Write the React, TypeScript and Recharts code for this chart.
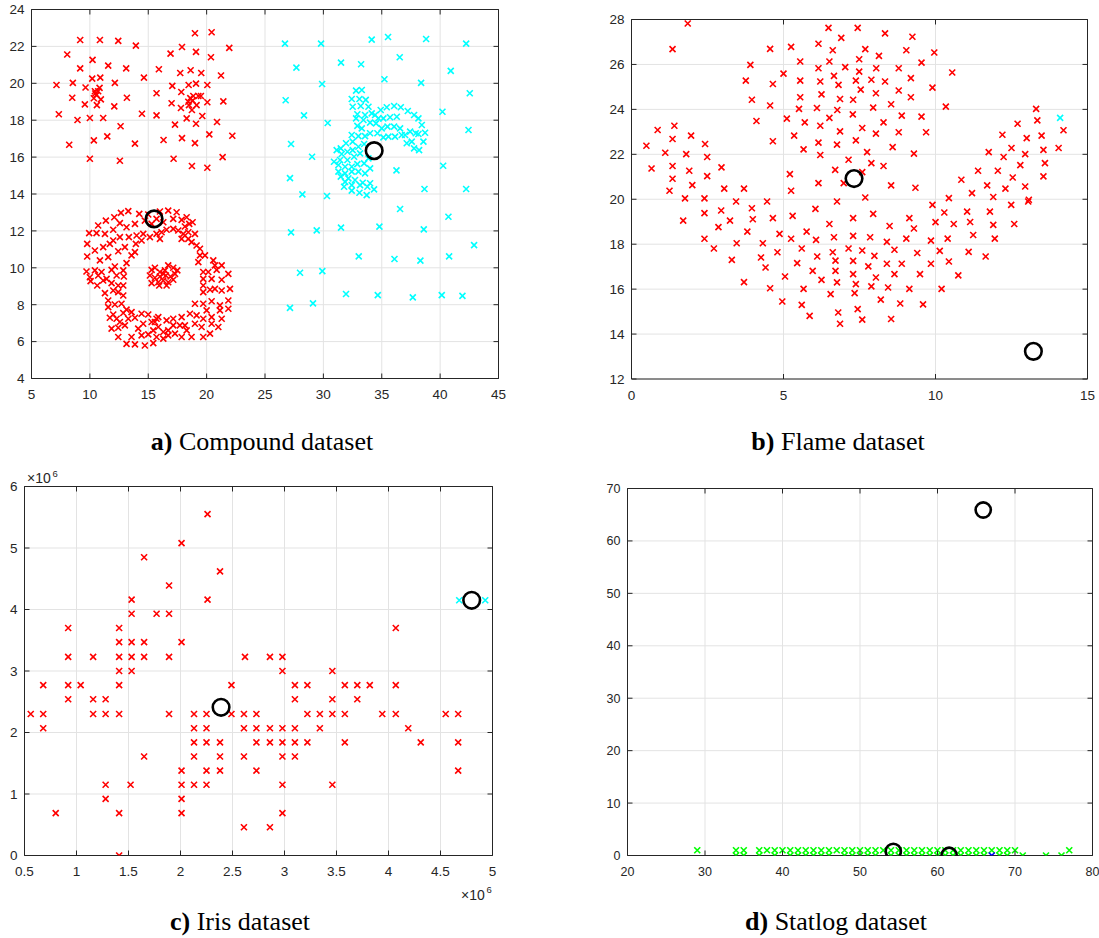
import React from "react";
import { ScatterChart, Scatter, XAxis, YAxis, CartesianGrid, ReferenceArea } from "recharts";

type Pt = { x: number; y: number };
const toPts = (arr: number[][]): Pt[] => arr.map(([x, y]) => ({ x, y }));

// ---- a) Compound dataset ----
const compoundRed = toPts([
  // upper-left blob
  [9.17, 22.35], [10.86, 22.35], [12.43, 22.3], [13.94, 22.04], [8.06, 21.56], [10.23, 21.27], [11.57, 20.96],
  [9.17, 20.81], [13.11, 20.81], [14.63, 20.31], [7.14, 19.91], [8.54, 20.02], [10.2, 20.25], [10.89, 20.31],
  [12.14, 20.02], [9.63, 19.77], [10.83, 19.75], [10.43, 19.57], [10.71, 19.57], [10.57, 19.37], [10.34, 19.19],
  [10.94, 19.13], [8.49, 19.22], [13.17, 19.22], [9.57, 18.86], [10.6, 18.82], [12.09, 18.75], [14.46, 18.35],
  [7.34, 18.32], [8.94, 18.01], [10, 18.12], [11.14, 18.12], [12.63, 17.67], [10.34, 16.91], [11.49, 17.12],
  [8.23, 16.67], [13.86, 16.73], [10, 15.91], [12.57, 15.8], [10.46, 19.45],
  // upper-right blob
  [19, 22.71], [20.43, 22.77], [17.89, 21.97], [16.91, 21.61], [19.09, 21.7], [21.94, 21.92], [20.37, 21.41],
  [15.91, 20.76], [17.74, 20.56], [18.63, 20.71], [19.54, 20.56], [21.23, 20.42], [17.06, 19.86], [18.46, 19.91],
  [19.09, 19.98], [20.06, 19.91], [15.71, 19.46], [17.83, 19.53], [18.6, 19.2], [18.86, 19.31], [19.29, 19.31],
  [19.51, 19.31], [18.43, 19.0], [18.8, 19.06], [17.0, 18.92], [18.49, 18.82], [19.14, 18.82], [17.8, 18.66],
  [18.74, 18.55], [20.06, 18.97], [21.43, 19.02], [15.71, 18.26], [18.29, 18.1], [19.63, 18.23], [20.89, 17.9],
  [17.29, 17.76], [19.09, 17.81], [20.23, 17.23], [22.2, 17.16], [16.31, 16.93], [17.89, 17.03], [19, 16.76],
  [21.37, 16.0], [17.17, 15.91], [18.74, 15.52], [20.06, 15.42],
  // ring, top part
  [13.29, 13.07], [12.66, 12.98], [14.23, 12.92], [15, 12.89], [16, 13.05], [16.71, 13.1], [17.43, 13.01],
  [18.29, 12.74], [12.09, 12.74], [11.37, 12.56], [10.71, 12.29], [9.94, 11.88], [9.77, 11.3], [9.77, 10.61],
  [9.71, 9.8], [10.06, 9.28], [12.57, 12.42], [13.86, 12.38], [14.71, 12.56], [15.29, 12.38], [15.71, 12.65],
  [16.29, 12.47], [17.14, 12.65], [17.86, 12.6], [18.51, 12.38], [18.8, 12.47], [18.14, 12.24], [10.57, 11.88],
  [11.29, 11.84], [12, 12.06], [13.14, 12.2], [12, 11.48], [12.57, 11.66], [13.34, 11.66], [14, 11.75],
  [14.57, 11.84], [15.14, 11.66], [15.71, 11.84], [16.14, 11.93], [16.57, 12.06], [17.14, 12.11], [17.57, 12.02],
  [18, 11.84], [18.43, 11.93], [19, 11.84], [17.86, 11.57], [18.43, 11.57], [16, 11.57], [14.43, 11.48], [13.94, 11.3],
  // ring, left side
  [10.43, 10.94], [11.14, 11.12], [11.71, 11.3], [12.43, 10.9], [13, 11.12], [13.86, 10.85], [13.57, 10.67],
  [10.86, 10.4], [11.57, 10.58], [12.14, 10.07], [12.86, 9.86], [13.14, 10.25], [10.43, 9.86], [11, 9.77],
  [11.86, 9.89], [10, 9.49], [10.71, 9.58], [11.43, 9.4], [12.29, 9.58], [12.91, 9.53], [10.63, 9.04],
  [11.14, 9.31], [11.86, 9.17], [12.43, 9.04], [12.86, 9.04], [11.29, 8.63], [12, 8.77], [12.43, 8.68],
  [12.86, 8.5], [11.57, 8.23], [12.14, 8.01], [12.71, 8.05], [13.14, 7.73], [11.57, 7.87], [12, 7.47],
  [11.71, 7.29], [12.29, 7.24], [12.86, 7.55], [13.57, 7.6], [12.57, 7.06], [13, 6.88], [11.86, 6.7],
  [12.43, 6.75], [13.29, 7.24], [13.86, 7.29], [14.43, 7.51], [15, 7.47],
  // ring, bottom
  [12.43, 6.25], [13.57, 6.25], [13.14, 5.88], [13.86, 5.85], [14.71, 5.79], [15.43, 5.92], [14.14, 6.7],
  [14.43, 6.34], [15, 6.39], [14.57, 6.97], [15.29, 7.06], [15.71, 7.24], [15.86, 6.79], [15.43, 6.61],
  [15.71, 6.25], [16.29, 6.52], [16.29, 6.16], [16.71, 6.61], [16.71, 6.34], [17.14, 6.88], [17.29, 6.43],
  [17.86, 6.25], [17.86, 7.33], [18.14, 6.88], [18.29, 6.61], [18.71, 6.25], [18.57, 7.51], [19, 6.97],
  [15.57, 7.06], [16.57, 7.15], [15.86, 7.33], [17.14, 7.24], [17.71, 6.88],
  // ring, right side
  [19.57, 6.79], [19.71, 6.25], [20.29, 6.43], [20.43, 6.97], [21, 6.79], [21.29, 7.24], [20.43, 7.33],
  [19.71, 7.24], [20, 7.69], [21.14, 7.69], [21.86, 7.78], [19.14, 7.42], [19, 8.05], [19.71, 8.05],
  [20.43, 8.19], [21.14, 7.96], [21.86, 8.23], [22, 8.86], [21.29, 8.77], [20.71, 8.86], [20.29, 8.81],
  [19.71, 8.68], [19.71, 9.04], [20.43, 9.4], [21.29, 9.35], [21.86, 9.67], [19.71, 9.4], [19.71, 9.77],
  [20.14, 9.77], [20.86, 9.89], [20.71, 10.13], [21.29, 10.13], [20.57, 10.4], [19.86, 10.67], [19.43, 10.67],
  [19.29, 10.31], [19.43, 11.03], [19.14, 11.21], [18.71, 11.39],
  // inner cluster
  [15.29, 9.89], [15.57, 10], [16, 9.77], [16.43, 9.86], [16.71, 10.13], [17.14, 10], [17.49, 9.86],
  [15.14, 9.58], [15.57, 9.46], [16, 9.53], [16.51, 9.58], [16.91, 9.53], [17.29, 9.67], [15.29, 9.17],
  [15.86, 9.22], [16.29, 9.31], [16.71, 9.22], [17.14, 9.35], [15.94, 9.04], [16.57, 9.04], [16.29, 9.67],
]);

const compoundCyan = toPts([
  // sparse background
  [26.71, 22.15], [29.8, 22.15], [34.14, 22.37], [35.54, 22.51], [38.8, 22.4], [42.23, 22.15], [27.69, 20.85],
  [31.51, 21.12], [33.23, 21.03], [36.54, 21.41], [40.91, 20.67], [29.89, 19.96], [35.23, 20.22], [38.37, 20.02],
  [42.54, 19.46], [26.77, 19.08], [28.34, 18.26], [30.37, 17.85], [40.2, 18.46], [42.43, 17.47], [27.23, 16.71],
  [29.03, 16.02], [40.26, 15.53], [36.26, 15.28], [27.14, 14.86], [28.2, 13.98], [30.31, 13.89], [38.66, 14.27],
  [42.23, 14.27], [36.57, 13.19], [40.71, 12.77], [27.23, 11.92], [29.43, 12.03], [31.51, 12.18], [34.8, 12.23],
  [38.6, 12.08], [42.91, 11.23], [33.03, 10.62], [36.09, 10.48], [38.31, 10.39], [40.77, 10.62], [28.0, 9.73],
  [29.91, 9.82], [31.94, 8.58], [34.66, 8.52], [37.66, 8.4], [40.14, 8.52], [41.91, 8.48], [27.14, 7.83], [29.11, 8.07],
  // dense hook
  [32.8, 19.6], [33.29, 19.64], [32.43, 19.15], [33.09, 19.15], [33.63, 19.1], [32.51, 18.73], [33.2, 18.77],
  [33.86, 18.73], [32.91, 18.32], [33.57, 18.28], [34.14, 18.37], [32.8, 18.1], [34, 17.87], [32.91, 17.69],
  [33.29, 17.56], [34.91, 18.55], [35.43, 18.7], [36.06, 18.77], [36.63, 18.7], [37.23, 18.5], [37.77, 18.28],
  [38.14, 18.1], [38.43, 17.74], [38.71, 17.32], [38.57, 16.84], [38.2, 16.38], [37.77, 16.47], [37.57, 16.84],
  [37.14, 16.75], [37.0, 17.2], [37.43, 17.38], [37.91, 17.29], [38.14, 17.25], [36.29, 18.19], [35.71, 18.16],
  [35.14, 18.1], [34.71, 18.1], [34.51, 17.83], [35, 17.56], [35.49, 17.65], [36.06, 17.65], [36.57, 17.56],
  [36.71, 17.2], [36.14, 17.11], [35.57, 17.11], [35.14, 17.07], [34.63, 17.29], [34, 17.29], [33.57, 17.14],
  [33.0, 17.14], [32.43, 17.2], [32.51, 16.84], [31.94, 16.75], [31.49, 16.47], [31.14, 16.38], [31.57, 16.17],
  [32.06, 16.29], [32.51, 16.38], [33, 16.56], [33.49, 16.71], [33.14, 16.2], [32.63, 16.02], [32.06, 15.84],
  [31.43, 15.84], [30.91, 15.75], [31.29, 15.57], [31.86, 15.48], [32.43, 15.48], [32.91, 15.62], [33.49, 15.66],
  [33.86, 15.93], [34, 15.39], [33.57, 15.12], [33, 15.21], [32.43, 15.21], [31.86, 15.12], [31.29, 15.21],
  [31.49, 14.94], [32.14, 14.85], [32.71, 14.76], [33.37, 14.61], [34, 14.58], [34.34, 14.25], [33.77, 14.39],
  [33.14, 14.48], [32.43, 14.48], [31.86, 14.66], [32.43, 14.18], [33.09, 14.07], [33.71, 13.94], [31.77, 14.39],
  [34.43, 18.28], [33.43, 18.01],
]);
const compoundCenters = toPts([[15.5, 12.65], [34.35, 16.35]]);

// ---- b) Flame dataset ----
const flameRed = toPts([
  [1.85, 27.82], [1.35, 26.68], [0.49, 22.38], [0.86, 23.08], [1.41, 23.27], [1.35, 22.68], [1.96, 22.83],
  [1.11, 22.07], [1.8, 22.01], [2.42, 22.46], [0.66, 21.37], [1.35, 21.48], [1.9, 21.27], [2.49, 21.88],
  [1.35, 20.91], [2.0, 20.63], [2.49, 21.03], [2.96, 21.42], [1.25, 20.38], [3.05, 20.47], [3.7, 20.47],
  [3.91, 25.98], [3.76, 25.28], [3.96, 24.43], [4.11, 23.48], [4.56, 26.69], [4.65, 25.13], [4.56, 24.17],
  [4.65, 22.58], [5, 25.59], [5.25, 26.78], [5.55, 26.13], [5.55, 25.28], [5.55, 24.54], [5.51, 24.02],
  [5.11, 23.59], [5.7, 23.42], [5.35, 22.83], [5.66, 22.22], [5.21, 21.12], [5.25, 20.38], [6.15, 26.92],
  [6.48, 27.63], [6.9, 27.18], [6.62, 26.63], [6.51, 26.13], [6.15, 25.83], [6.21, 25.24], [6.66, 25.49],
  [6.81, 25.09], [6.25, 24.67], [6.86, 24.46], [6.1, 24.06], [6.77, 23.97], [6.51, 23.62], [6.21, 23.27],
  [6.86, 23.02], [6.15, 22.52], [6.76, 22.43], [6.21, 21.97], [6.7, 21.31], [6.15, 20.72], [6.98, 20.72],
  [7.14, 21.76],
  [7.44, 27.63], [8.34, 27.38], [9.24, 27.23], [7.69, 26.68], [8.14, 26.38], [9.04, 26.63], [9.96, 26.53],
  [7.49, 26.23], [7.03, 25.88], [7.49, 25.68], [8.05, 25.83], [8.79, 25.83], [9.54, 26.08], [10.55, 25.64],
  [7.38, 25.28], [7.89, 25.32], [8.34, 25.24], [9.19, 25.39], [7.54, 24.88], [8.04, 24.72], [8.79, 24.84],
  [9.9, 24.97], [7.29, 24.43], [9.19, 24.54], [7.95, 24.08], [8.54, 24.23], [10.34, 24.12], [7.28, 23.78],
  [8.89, 23.72], [9.54, 23.68], [8.29, 23.42], [7.59, 23.17], [8.04, 22.92], [8.79, 22.98], [9.69, 22.98],
  [7.38, 22.62], [8.59, 22.32], [7.75, 22.1], [9.29, 22.03], [7.89, 21.61], [8.29, 21.48], [7.59, 21.21],
  [8.54, 20.62], [9.34, 20.51], [7.69, 20.08],
  [13.31, 24.02], [12.7, 23.36], [13.35, 23.51], [14.21, 23.07], [12.2, 22.87], [13.0, 22.72], [13.49, 22.83],
  [12.5, 22.28], [13.55, 22.2], [14.05, 22.28], [11.75, 22.1], [12.24, 21.88], [12.95, 22.01], [12.79, 21.52],
  [13.6, 21.61], [11.4, 21.27], [12.05, 21.27], [12.54, 20.97], [13.55, 21.02], [10.85, 20.87], [11.7, 20.62],
  [12.3, 20.47], [12.95, 20.57], [11.2, 20.27], [11.9, 20.1], [10.44, 20.05], [13.07, 19.98],
  [1.76, 20.04], [2.4, 20.04], [3.44, 19.9], [3.96, 19.6], [4.46, 19.9], [1.7, 19.05], [2.4, 19.38],
  [2.95, 19.5], [3.24, 19.05], [3.99, 19.11], [4.65, 19.16], [5.3, 19.26], [6.05, 19.57], [6.76, 19.9],
  [2.86, 18.76], [2.4, 18.24], [3.81, 18.56], [3.46, 18.04], [4.32, 18.04], [4.87, 18.46], [5.25, 18.24],
  [5.76, 18.56], [6.07, 18.19], [6.51, 18.9], [6.66, 18.31], [2.71, 17.81], [3.3, 17.3], [4.8, 17.64],
  [5.6, 17.81], [6.62, 17.64], [4.26, 17.41], [5.45, 17.16], [6.11, 17.45], [6.71, 17.27], [4.41, 16.96],
  [5.96, 16.81], [6.71, 16.81], [5.05, 16.56], [6.25, 16.41], [6.76, 16.3], [3.7, 16.31], [4.56, 16.04],
  [5.66, 16.01], [6.55, 15.78], [4.96, 15.45], [5.6, 15.3], [5.86, 14.81], [6.8, 14.96], [6.86, 14.46],
  [7.14, 17.81],
  [9.9, 19.75], [12.49, 19.75], [13.05, 19.9], [7.29, 19.16], [7.95, 19.35], [9.14, 19.16], [10.29, 19.41],
  [11.04, 19.45], [11.79, 19.45], [8.49, 18.81], [9.29, 18.7], [10, 18.98], [10.6, 18.9], [11.14, 18.99],
  [11.9, 18.86], [12.59, 18.9], [7.29, 18.37], [7.85, 18.31], [8.4, 18.1], [9.04, 18.25], [9.85, 18.16],
  [10.4, 18.25], [11.24, 18.41], [11.95, 18.25], [7.59, 17.72], [7.99, 17.48], [8.65, 17.75], [9.4, 17.61],
  [10.14, 17.7], [11.09, 17.66], [11.65, 17.45], [7.29, 17.26], [7.79, 17.01], [8.4, 17.13], [8.89, 17.13],
  [9.85, 17.13], [10.44, 17.23], [7.29, 16.67], [8.04, 16.52], [8.65, 16.67], [9.49, 16.67], [10.75, 16.61],
  [7.38, 16.22], [7.89, 16.12], [8.44, 16.07], [9.14, 16.01], [10.2, 16.01], [7.34, 15.82], [8.2, 15.53],
  [8.84, 15.36], [9.59, 15.32], [7.44, 15.11], [7.59, 14.64], [8.54, 14.67],
]);
const flameCyan = toPts([[14.1, 23.62]]);
const flameCenters = toPts([[7.32, 20.92], [13.22, 13.23]]);

// ---- c) Iris dataset (x and y in units of 10^6) ----
const irisRed = toPts([
  [2.26, 5.55], [2.01, 5.08], [1.65, 4.85], [2.38, 4.62], [1.89, 4.39], [1.53, 4.16], [2.26, 4.16],
  [1.53, 3.93], [1.77, 3.93], [1.89, 3.93], [0.92, 3.7], [1.41, 3.7], [4.07, 3.7], [1.41, 3.47], [1.53, 3.47],
  [1.65, 3.47], [2.01, 3.47], [0.92, 3.23], [1.16, 3.23], [1.41, 3.23], [1.53, 3.23], [1.65, 3.23], [1.89, 3.23],
  [2.62, 3.23], [2.86, 3.23], [2.98, 3.23], [1.41, 3.0], [1.53, 3.0], [2.98, 3.0], [3.46, 3.0],
  [0.68, 2.77], [0.92, 2.77], [1.04, 2.77], [1.41, 2.77], [2.49, 2.77], [3.1, 2.77], [3.22, 2.77], [3.58, 2.77],
  [3.7, 2.77], [3.82, 2.77], [4.07, 2.77],
  [0.92, 2.54], [1.16, 2.54], [1.28, 2.54], [3.1, 2.54], [3.46, 2.54], [3.7, 2.54],
  [0.56, 2.3], [0.68, 2.3], [1.16, 2.3], [1.28, 2.3], [1.41, 2.3], [1.89, 2.3], [2.13, 2.3], [2.25, 2.3],
  [2.49, 2.3], [2.61, 2.3], [2.73, 2.3], [3.22, 2.3], [3.34, 2.3], [3.46, 2.3], [3.58, 2.3], [3.94, 2.3],
  [4.07, 2.3], [4.55, 2.3], [4.67, 2.3],
  [0.68, 2.07], [2.13, 2.07], [2.25, 2.07], [2.61, 2.07], [2.73, 2.07], [2.86, 2.07], [2.98, 2.07], [3.1, 2.07],
  [3.34, 2.07], [4.19, 2.07],
  [2.13, 1.84], [2.25, 1.84], [2.38, 1.84], [2.73, 1.84], [2.86, 1.84], [2.98, 1.84], [3.1, 1.84], [3.22, 1.84],
  [3.58, 1.84], [4.31, 1.84], [4.67, 1.84],
  [1.65, 1.61], [2.13, 1.61], [2.38, 1.61], [2.61, 1.61], [2.98, 1.61], [3.1, 1.61],
  [2.01, 1.38], [2.25, 1.38], [2.38, 1.38], [2.73, 1.38], [4.67, 1.38],
  [1.28, 1.15], [1.52, 1.15], [2.01, 1.15], [2.13, 1.15], [2.25, 1.15], [2.98, 1.15], [3.46, 1.15],
  [1.28, 0.92], [2.01, 0.92], [0.8, 0.69], [1.41, 0.69], [2.01, 0.69], [2.98, 0.69],
  [2.61, 0.46], [2.86, 0.46], [1.41, 0.0],
]);
const irisCyan = toPts([[4.68, 4.15], [4.93, 4.15]]);
const irisCenters = toPts([[2.39, 2.41], [4.8, 4.15]]);

// ---- d) Statlog dataset ----
const statlogGreen = toPts([
  [29, 1], [34, 1], [35, 1], [37, 1], [38, 1], [39, 1], [40, 1], [41, 1], [42, 1], [43, 1], [44, 1], [45, 1],
  [46, 1], [47, 1], [48, 1], [49, 1], [50, 1], [51, 1], [52, 1], [53, 1], [54, 1], [55, 1], [56, 1], [57, 1],
  [58, 1], [59, 1], [60, 1], [61, 1], [62, 1], [63, 1], [64, 1], [65, 1], [66, 1], [67, 1], [68, 1], [69, 1],
  [70, 1], [77, 1],
  [34, 0], [35, 0], [37, 0], [39, 0], [41, 0], [42, 0], [43, 0], [44, 0], [45, 0], [46, 0], [48, 0], [49, 0],
  [50, 0], [51, 0], [52, 0], [54, 0], [55, 0], [56, 0], [57, 0], [58, 0], [59, 0], [60, 0], [61, 0], [62, 0],
  [63, 0], [64, 0], [65, 0], [66, 0], [68, 0], [69, 0], [71, 0], [74, 0], [76, 0],
]);
const statlogBlue = toPts([[67, 0]]);
const statlogCenters = toPts([[54.3, 0.8], [61.5, 0.05], [65.9, 65.9]]);

// ---- ticks ----
const compoundXTicks = [5, 10, 15, 20, 25, 30, 35, 40, 45];
const compoundYTicks = [4, 6, 8, 10, 12, 14, 16, 18, 20, 22, 24];
const flameXTicks = [0, 5, 10, 15];
const flameYTicks = [12, 14, 16, 18, 20, 22, 24, 26, 28];
const irisXTicks = [0.5, 1, 1.5, 2, 2.5, 3, 3.5, 4, 4.5, 5];
const irisYTicks = [0, 1, 2, 3, 4, 5, 6];
const statlogXTicks = [20, 30, 40, 50, 60, 70, 80];
const statlogYTicks = [0, 10, 20, 30, 40, 50, 60, 70];

const AXIS = "#262626";
const GRID = "#e3e3e3";
const SANS = "'Liberation Sans', Arial, Helvetica, sans-serif";
const SERIF = "'Liberation Serif', 'Times New Roman', serif";
const TICK_LEN = 5;

type Series = { data: Pt[]; kind: "x" | "o"; color: string };

function XMark({ cx, cy, color }: { cx: number; cy: number; color: string }) {
  const s = 3;
  return (
    <path
      d={`M${cx - s},${cy - s}L${cx + s},${cy + s}M${cx - s},${cy + s}L${cx + s},${cy - s}`}
      stroke={color}
      strokeWidth={1.6}
      fill="none"
    />
  );
}

function Ring({ cx, cy, r }: { cx: number; cy: number; r: number }) {
  return <circle cx={cx} cy={cy} r={r} fill="none" stroke="#000" strokeWidth={2.6} />;
}

type PanelProps = {
  box: [number, number, number, number]; // svg left, top, width, height
  plot: [number, number, number, number]; // plot left, top, right, bottom
  xDomain: [number, number];
  yDomain: [number, number];
  xTicks: number[];
  yTicks: number[];
  fontSize: number;
  ringR: number;
  series: Series[];
};

function Panel({ box, plot, xDomain, yDomain, xTicks, yTicks, fontSize, ringR, series }: PanelProps) {
  const [sl, st, sw, sh] = box;
  const [pl, pt, pr, pb] = plot;
  const plotW = pr - pl;
  const plotH = pb - pt;
  // axes get 1px of room each (a zero-size axis is not drawn)
  const margin = { left: pl - sl - 1, top: pt - st, right: sl + sw - pr, bottom: st + sh - pb - 1 };

  const bottomTick = (p: any) => (
    <g key={`bx-${p.payload.value}`}>
      <line x1={p.x} y1={p.y} x2={p.x} y2={p.y - TICK_LEN} stroke={AXIS} />
      <line x1={p.x} y1={p.y - plotH} x2={p.x} y2={p.y - plotH + TICK_LEN} stroke={AXIS} />
      <text x={p.x} y={p.y + 20.5} textAnchor="middle" fontSize={fontSize} fontFamily={SANS} fill={AXIS} stroke="none">
        {p.payload.value}
      </text>
    </g>
  );
  const leftTick = (p: any) => (
    <g key={`ly-${p.payload.value}`}>
      <line x1={p.x} y1={p.y} x2={p.x + TICK_LEN} y2={p.y} stroke={AXIS} />
      <line x1={p.x + plotW - TICK_LEN} y1={p.y} x2={p.x + plotW} y2={p.y} stroke={AXIS} />
      <text x={p.x - 7} y={p.y} dy="0.36em" textAnchor="end" fontSize={fontSize} fontFamily={SANS} fill={AXIS} stroke="none">
        {p.payload.value}
      </text>
    </g>
  );

  return (
    <div style={{ position: "absolute", left: sl, top: st, width: sw, height: sh }}>
      <ScatterChart width={sw} height={sh} margin={margin}>
        <CartesianGrid stroke={GRID} strokeWidth={1} />
        <XAxis
          type="number"
          dataKey="x"
          domain={xDomain}
          ticks={xTicks}
          allowDataOverflow
          interval={0}
          height={1}
          axisLine={false}
          tickLine={false}
          tickSize={0}
          tickMargin={0}
          tick={bottomTick}
        />
        <YAxis
          type="number"
          dataKey="y"
          domain={yDomain}
          ticks={yTicks}
          allowDataOverflow
          interval={0}
          width={1}
          axisLine={false}
          tickLine={false}
          tickSize={0}
          tickMargin={0}
          tick={leftTick}
        />
        <ReferenceArea
          x1={xDomain[0]}
          x2={xDomain[1]}
          y1={yDomain[0]}
          y2={yDomain[1]}
          fill="none"
          fillOpacity={0}
          stroke={AXIS}
          strokeWidth={1}
        />
        {series.map((s, i) => (
          <Scatter
            key={i}
            data={s.data}
            isAnimationActive={false}
            shape={(p: any) =>
              s.kind === "x" ? <XMark cx={p.cx} cy={p.cy} color={s.color} /> : <Ring cx={p.cx} cy={p.cy} r={ringR} />
            }
          />
        ))}
      </ScatterChart>
    </div>
  );
}

export default function App() {
  return (
    <div style={{ position: "absolute", left: 0, top: 0, width: 1099, height: 938, background: "#fff" }}>
      <Panel
        box={[0, 0, 560, 460]}
        plot={[31.5, 9.5, 498.5, 378.5]}
        xDomain={[5, 45]}
        yDomain={[4, 24]}
        xTicks={compoundXTicks}
        yTicks={compoundYTicks}
        fontSize={13.5}
        ringR={8.3}
        series={[
          { data: compoundRed, kind: "x", color: "#ff0000" },
          { data: compoundCyan, kind: "x", color: "#00ffff" },
          { data: compoundCenters, kind: "o", color: "#000" },
        ]}
      />
      <Panel
        box={[560, 0, 539, 460]}
        plot={[631.5, 19.5, 1087.5, 379]}
        xDomain={[0, 15]}
        yDomain={[12, 28]}
        xTicks={flameXTicks}
        yTicks={flameYTicks}
        fontSize={13.5}
        ringR={8.3}
        series={[
          { data: flameRed, kind: "x", color: "#ff0000" },
          { data: flameCyan, kind: "x", color: "#00ffff" },
          { data: flameCenters, kind: "o", color: "#000" },
        ]}
      />
      <Panel
        box={[0, 460, 560, 478]}
        plot={[24.5, 486.5, 492.5, 855.5]}
        xDomain={[0.5, 5]}
        yDomain={[0, 6]}
        xTicks={irisXTicks}
        yTicks={irisYTicks}
        fontSize={13.5}
        ringR={8.3}
        series={[
          { data: irisRed, kind: "x", color: "#ff0000" },
          { data: irisCyan, kind: "x", color: "#00ffff" },
          { data: irisCenters, kind: "o", color: "#000" },
        ]}
      />
      <Panel
        box={[560, 460, 539, 478]}
        plot={[627.5, 488.5, 1092.5, 855.5]}
        xDomain={[20, 80]}
        yDomain={[0, 70]}
        xTicks={statlogXTicks}
        yTicks={statlogYTicks}
        fontSize={12.5}
        ringR={7.6}
        series={[
          { data: statlogGreen, kind: "x", color: "#00ff00" },
          { data: statlogBlue, kind: "x", color: "#0000ff" },
          { data: statlogCenters, kind: "o", color: "#000" },
        ]}
      />
      <svg
        width={1099}
        height={938}
        style={{ position: "absolute", left: 0, top: 0, pointerEvents: "none" }}
      >
        <g fontFamily={SANS} fill={AXIS}>
          <text x={27} y={483.3} fontSize={14}>×10</text>
          <text x={52.5} y={476.7} fontSize={9.5}>6</text>
          <text x={461} y={900} fontSize={14}>×10</text>
          <text x={486.5} y={892.7} fontSize={9.5}>6</text>
        </g>
        <g fontFamily={SERIF} fontSize={26} fill="#000" textAnchor="middle">
          <text x={262} y={450}>
            <tspan fontWeight="bold">a)</tspan> Compound dataset
          </text>
          <text x={838} y={450}>
            <tspan fontWeight="bold">b)</tspan> Flame dataset
          </text>
          <text x={240} y={929.5}>
            <tspan fontWeight="bold">c)</tspan> Iris dataset
          </text>
          <text x={836} y={929.5}>
            <tspan fontWeight="bold">d)</tspan> Statlog dataset
          </text>
        </g>
      </svg>
    </div>
  );
}
